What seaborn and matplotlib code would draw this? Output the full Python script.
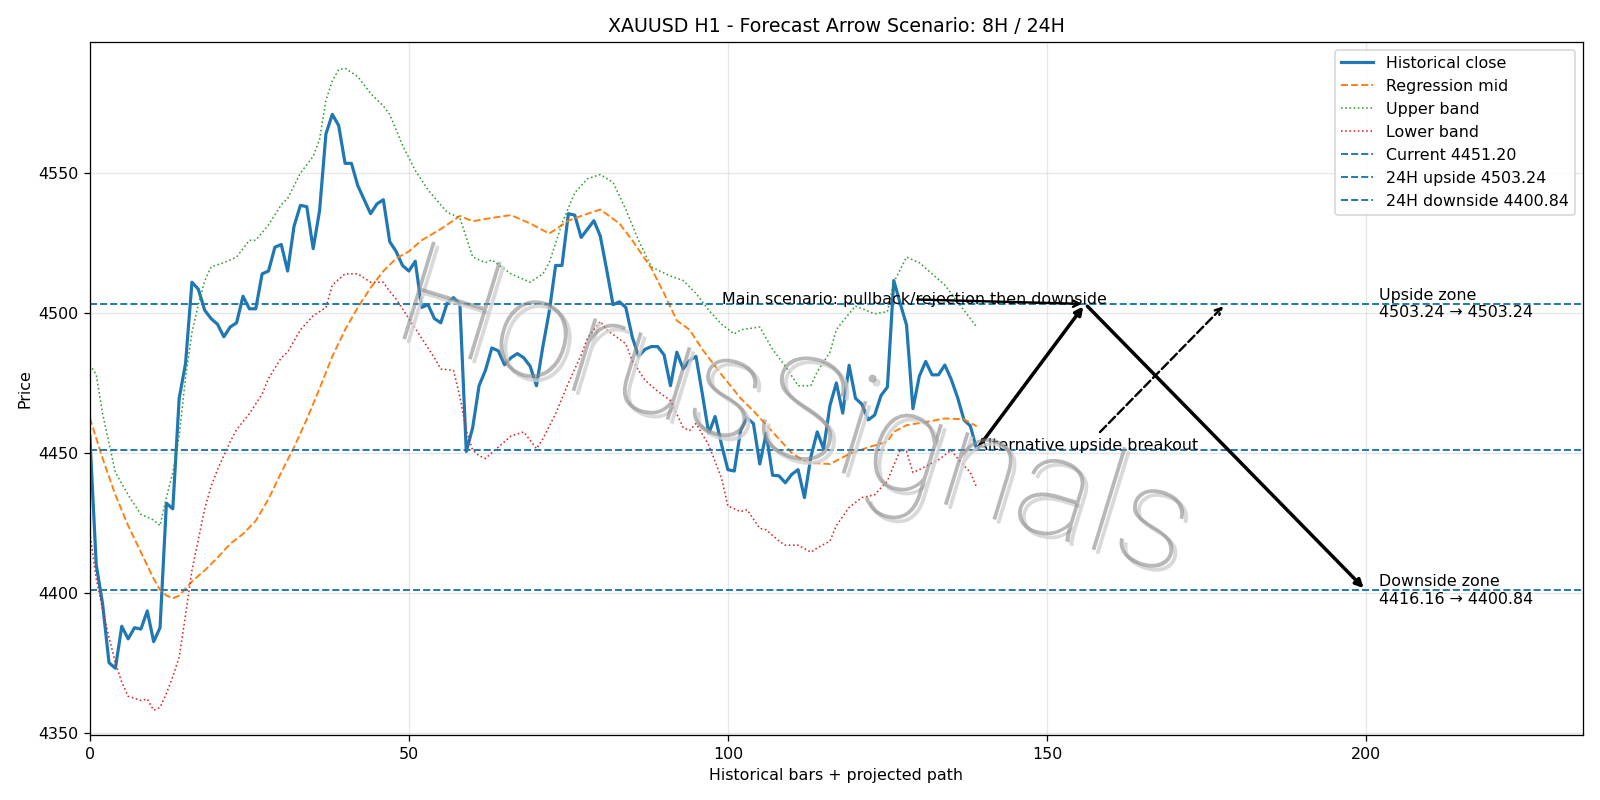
# XAUUSD H1 forecast arrow chart
import numpy as np
import seaborn as sns
import matplotlib.pyplot as plt
import matplotlib.patheffects as pe
from matplotlib import font_manager as fm

# historical closes, one per H1 bar
close = [4456, 4410, 4396, 4375, 4373, 4388, 4383.5, 4387.5, 4387, 4393.5,
         4382.5, 4387.5, 4432, 4430, 4469.5, 4482, 4511, 4508.5, 4501, 4498,
         4496, 4491.5, 4495, 4496.5, 4506, 4501.5, 4501.5, 4514, 4515, 4523.5,
         4524.5, 4515, 4531, 4538.5, 4538, 4523, 4536.5, 4564, 4571, 4567,
         4553.5, 4553.5, 4545.5, 4540.5, 4535.5, 4539, 4540.5, 4525.5, 4522, 4517,
         4515, 4518.5, 4502, 4503, 4498, 4496.5, 4503.5, 4505.5, 4503, 4450.5,
         4459, 4474, 4479.5, 4487.5, 4486.5, 4481.5, 4484, 4485.5, 4484, 4481,
         4474, 4488, 4500.5, 4517, 4517, 4535.5, 4535, 4527, 4530, 4533,
         4527.5, 4515.5, 4503, 4504, 4502, 4491.5, 4484.5, 4487, 4488, 4488,
         4485, 4474, 4486, 4480, 4483, 4484.5, 4471, 4457, 4463, 4453,
         4444, 4443.5, 4458, 4462.5, 4460.5, 4446, 4457, 4442, 4441.8, 4439.3,
         4442.3, 4444, 4434, 4448.5, 4457.5, 4451.5, 4467, 4475, 4464.2, 4481.3,
         4469.5, 4467.4, 4461.8, 4463.5, 4470.5, 4473.5, 4511.6, 4503.5, 4495.7, 4465.8,
         4477.4, 4482.7, 4477.9, 4477.9, 4481.4, 4476.3, 4469.8, 4461.8, 4459.6, 4451.2]
bars = np.arange(len(close))

# regression mid
mid_x = [0, 2, 4, 6, 8, 10, 11, 12, 13, 14, 15, 16, 18, 20, 22, 24, 26, 28, 30, 32,
         34, 36, 38, 40, 42, 44, 46, 48, 50, 52, 55, 58, 60, 63, 66, 69, 72, 75, 77, 80,
         83, 85, 88, 90, 92, 94, 96, 99, 102, 104, 107, 110, 112, 113, 116, 119, 122, 125, 126, 128,
         131, 134, 137, 139]
mid_y = [4462.5, 4448, 4435, 4424, 4414.5, 4405, 4401, 4399, 4398, 4399, 4401.5, 4404, 4408, 4412.5, 4417.5, 4421, 4425.7, 4433.5, 4443, 4452,
         4462, 4473, 4484.5, 4494, 4502, 4509, 4515, 4519.5, 4522, 4526, 4530, 4534.7, 4532.8, 4534, 4535, 4532, 4528.4, 4533, 4534.7, 4537,
         4532, 4526, 4516, 4507, 4497.3, 4494, 4487, 4478, 4469.5, 4465, 4457.5, 4450, 4447, 4446.4, 4446, 4449.6, 4452, 4454, 4457.5, 4459.9,
         4461, 4462.3, 4462, 4459.5]

# upper band
up_x = [0, 1, 2, 4, 6, 8, 10, 11, 12, 13, 14, 15, 16, 17, 18, 19, 21, 23, 25, 26,
        28, 30, 31, 33, 35, 36, 37, 38, 39, 40, 42, 44, 46, 47, 49, 51, 53, 56, 58, 60,
        62, 63, 66, 69, 71, 72, 74, 76, 78, 80, 82, 84, 86, 88, 91, 93, 95, 97, 99, 101,
        102, 105, 107, 109, 111, 113, 114, 116, 117, 118, 120, 123, 125, 126, 128, 130, 132, 134, 136, 139]
up_y = [4481.5, 4478, 4464, 4443, 4435, 4428, 4426, 4424, 4434, 4443, 4456, 4477, 4493, 4503, 4511.5, 4516.5, 4518, 4520, 4526, 4526,
        4531.5, 4538.7, 4541, 4550, 4556, 4562, 4576, 4583, 4587, 4587.5, 4584.5, 4578.5, 4574, 4571, 4560, 4551, 4544, 4536, 4534, 4520,
        4518, 4519, 4514, 4511, 4514, 4518, 4532, 4543, 4548, 4549.5, 4546.7, 4537, 4526, 4516.5, 4513.2, 4511.6, 4507, 4501, 4496, 4492.5,
        4494, 4495, 4487, 4481, 4474, 4474, 4479, 4486, 4494, 4497, 4502.5, 4499.7, 4500.5, 4511, 4520, 4518, 4514, 4510, 4504, 4495]

# lower band
lo_x = [0, 1, 2, 3, 4, 5, 6, 8, 9, 10, 11, 12, 13, 14, 15, 16, 17, 18, 19, 20,
        22, 23, 25, 27, 28, 30, 31, 33, 35, 37, 38, 40, 42, 44, 46, 47, 48, 50, 52, 54,
        55, 57, 58, 59, 60, 61, 62, 64, 66, 68, 70, 71, 73, 75, 77, 78, 80, 81, 84, 85,
        87, 89, 91, 93, 94, 95, 97, 99, 100, 102, 103, 105, 106, 108, 109, 111, 113, 114, 116, 117,
        119, 121, 123, 125, 127, 128, 129, 130, 133, 135, 136, 138, 139]
lo_y = [4421.5, 4405, 4394, 4384, 4375, 4368, 4363, 4361.5, 4362, 4358, 4359, 4364, 4370, 4377, 4392, 4408, 4419, 4430, 4438, 4444,
        4454, 4458.3, 4464, 4471, 4476.6, 4484, 4486, 4494, 4499, 4502, 4510, 4514, 4514, 4511, 4511, 4507.7, 4505, 4498, 4491, 4484,
        4480, 4479.5, 4470, 4458, 4451, 4449, 4448, 4452, 4456, 4457.5, 4451.5, 4455, 4464, 4475, 4485, 4491, 4497, 4494, 4489, 4483,
        4476, 4472, 4468.7, 4459, 4458, 4460.5, 4452.8, 4441, 4431, 4429, 4429.7, 4423, 4422.5, 4418.5, 4417, 4417, 4414.5, 4416, 4418.5, 4424,
        4430.5, 4434, 4435, 4440, 4451, 4450.5, 4443, 4444, 4447.5, 4451, 4448, 4443, 4437.6]

# levels and projected path
current = 4451.20
upside = 4503.24
downside = 4400.84
down_from = 4416.16
last_bar = 139
peak_bar = 156
end_bar = 200
alt_bar = 178

fig, ax = plt.subplots(figsize=(14, 7), dpi=1600 / 14)

sns.lineplot(x=bars, y=close, ax=ax, color='#1f77b4', linewidth=2, label='Historical close')
sns.lineplot(x=mid_x, y=mid_y, ax=ax, color='#ff7f0e', linewidth=1.2, linestyle='--', label='Regression mid')
sns.lineplot(x=up_x, y=up_y, ax=ax, color='#2ca02c', linewidth=1.0, linestyle=':', label='Upper band')
sns.lineplot(x=lo_x, y=lo_y, ax=ax, color='#d62728', linewidth=1.0, linestyle=':', label='Lower band')

ax.axhline(current, color='#1f77b4', linestyle='--', linewidth=1.2, label=f'Current {current:.2f}')
ax.axhline(upside, color='#1f77b4', linestyle='--', linewidth=1.2, label=f'24H upside {upside:.2f}')
ax.axhline(downside, color='#1f77b4', linestyle='--', linewidth=1.2, label=f'24H downside {downside:.2f}')

# main path: up to the rejection, then down
ax.annotate('', xy=(peak_bar, upside), xytext=(last_bar, current),
            arrowprops=dict(arrowstyle='-|>', color='black', lw=2.2))
ax.annotate('', xy=(end_bar, downside), xytext=(peak_bar, upside),
            arrowprops=dict(arrowstyle='-|>', color='black', lw=2.2))
ax.annotate('Main scenario: pullback/rejection then downside', xy=(peak_bar, upside),
            xytext=(last_bar - 40, upside), arrowprops=dict(arrowstyle='->', color='black', lw=1.5))

# alternative path
ax.annotate('Alternative upside breakout', xy=(alt_bar, upside), xytext=(last_bar, current),
            arrowprops=dict(arrowstyle='->', color='black', lw=1.5, linestyle='--'))

ax.text(end_bar + 2, upside, f'Upside zone\n{upside:.2f} → {upside:.2f}', va='center')
ax.text(end_bar + 2, downside, f'Downside zone\n{down_from:.2f} → {downside:.2f}', va='center')

ax.set_xlim(0, 234)
ax.set_ylim(4349, 4597)
ax.set_title('XAUUSD H1 - Forecast Arrow Scenario: 8H / 24H')
ax.set_xlabel('Historical bars + projected path')
ax.set_ylabel('Price')
ax.grid(True, alpha=0.3)
ax.legend(loc='upper right')

# watermark in a thin face if one is installed
def weight_num(w):
    if isinstance(w, str):
        return fm.weight_dict.get(w, 400)
    return w

wm_font = fm.FontProperties(family='DejaVu Sans')
for fam in ['Roboto', 'Lato', 'Inter', 'DejaVu Sans', 'Open Sans', 'Noto Sans']:
    cands = [f for f in fm.fontManager.ttflist
             if f.name == fam and f.style == 'normal' and weight_num(f.weight) < 400]
    if cands:
        best = min(cands, key=lambda f: weight_num(f.weight))
        wm_font = fm.FontProperties(fname=best.fname)
        break

fig.text(0.496, 0.478, 'HorusSignals', fontproperties=wm_font, fontsize=90, color='#8a8a8a', alpha=0.6,
         rotation=-17, ha='center', va='center', zorder=10,
         path_effects=[pe.SimplePatchShadow(offset=(2.5, -2.5), shadow_rgbFace='#d0d0d0', alpha=0.8), pe.Normal()])

plt.tight_layout()
plt.savefig('out.png')
